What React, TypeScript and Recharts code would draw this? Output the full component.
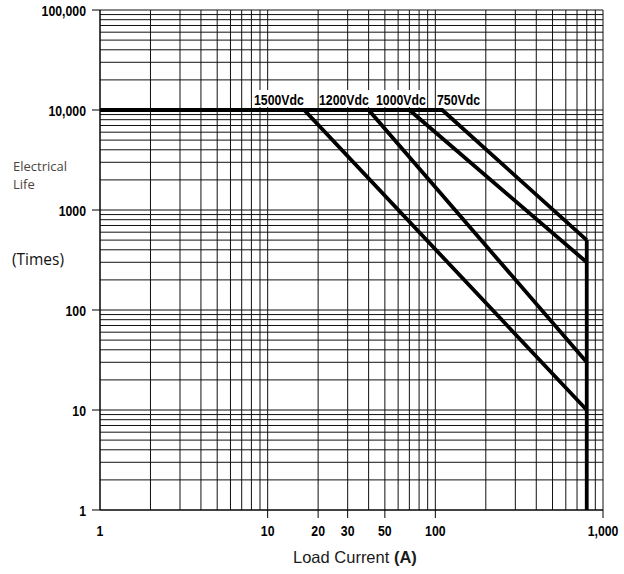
import React from "react";
import { LineChart, Line, XAxis, YAxis, CartesianGrid } from "recharts";

// grid ticks (1-2-...-9 per decade)
const xTicks = [
  1, 2, 3, 4, 5, 6, 7, 8, 9,
  10, 20, 30, 40, 50, 60, 70, 80, 90,
  100, 200, 300, 400, 500, 600, 700, 800, 900,
  1000,
];
const yTicks = [
  1, 2, 3, 4, 5, 6, 7, 8, 9,
  10, 20, 30, 40, 50, 60, 70, 80, 90,
  100, 200, 300, 400, 500, 600, 700, 800, 900,
  1000, 2000, 3000, 4000, 5000, 6000, 7000, 8000, 9000,
  10000, 20000, 30000, 40000, 50000, 60000, 70000, 80000, 90000,
  100000,
];

// labelled ticks
const xLabelValues = [1, 10, 20, 30, 50, 100, 1000];
const xLabelText = ["1", "10", "20", "30", "50", "100", "1,000"];
const yLabelValues = [1, 10, 100, 1000, 10000, 100000];
const yLabelText = ["1", "10", "100", "1000", "10,000", "100,000"];

// life curves: (load current A, operations)
const v1500 = [
  { x: 1, y: 10000 },
  { x: 16.5, y: 10000 },
  { x: 800, y: 10 },
];
const v1200 = [
  { x: 1, y: 10000 },
  { x: 40, y: 10000 },
  { x: 800, y: 30 },
];
const v1000 = [
  { x: 1, y: 10000 },
  { x: 70, y: 10000 },
  { x: 800, y: 300 },
];
const v750 = [
  { x: 1, y: 10000 },
  { x: 110, y: 10000 },
  { x: 800, y: 500 },
];
const cutoff = [
  { x: 800, y: 500 },
  { x: 800, y: 1 },
];

// no narrow font installed: squeeze Liberation Sans Bold horizontally
const NarrowText = ({ x, y, anchor, children }: any) => (
  <text
    transform={`translate(${x},${y}) scale(0.82,1)`}
    textAnchor={anchor || "start"}
    fontFamily="'Liberation Sans', Arial, sans-serif"
    fontWeight="bold"
    fontSize={15}
    fill="#000"
  >
    {children}
  </text>
);

const XTick = (props: any) => {
  const { x, y, payload } = props;
  const i = xLabelValues.indexOf(payload.value);
  if (i < 0) return null;
  return (
    <g>
      {i > 0 && <line x1={x} x2={x} y1={y} y2={y + 8} stroke="#000" />}
      <NarrowText x={x} y={y + 26} anchor="middle">
        {xLabelText[i]}
      </NarrowText>
    </g>
  );
};

const YTick = (props: any) => {
  const { x, y, payload } = props;
  const i = yLabelValues.indexOf(payload.value);
  if (i < 0) return null;
  return (
    <g>
      <line x1={x - 8} x2={x} y1={y} y2={y} stroke="#000" />
      <NarrowText x={x - 14} y={y + 6} anchor="end">
        {yLabelText[i]}
      </NarrowText>
    </g>
  );
};

const seriesLabels = [
  { text: "1500Vdc", x: 254 },
  { text: "1200Vdc", x: 319 },
  { text: "1000Vdc", x: 376 },
  { text: "750Vdc", x: 437 },
];

export default function App() {
  const lineProps = {
    type: "linear" as const,
    dataKey: "y",
    stroke: "#000",
    strokeWidth: 3.8,
    dot: false,
    activeDot: false,
    isAnimationActive: false,
    strokeLinejoin: "miter" as const,
  };
  return (
    <div style={{ position: "absolute", left: 0, top: 0, width: 624, height: 574, background: "#fff" }}>
      <LineChart width={624} height={574} margin={{ top: 10, right: 21, bottom: 0, left: 0 }}>
        <CartesianGrid stroke="#111" strokeWidth={1} />
        <XAxis
          dataKey="x"
          type="number"
          scale="log"
          domain={[1, 1000]}
          ticks={xTicks}
          interval={0}
          allowDataOverflow
          height={64}
          tickSize={0}
          tickMargin={0}
          tickLine={false}
          axisLine={{ stroke: "#000" }}
          tick={<XTick />}
        />
        <YAxis
          type="number"
          scale="log"
          domain={[1, 100000]}
          ticks={yTicks}
          interval={0}
          allowDataOverflow
          width={100}
          tickSize={0}
          tickMargin={0}
          tickLine={false}
          axisLine={{ stroke: "#000" }}
          tick={<YTick />}
        />
        <Line {...lineProps} data={v1500} />
        <Line {...lineProps} data={v1200} />
        <Line {...lineProps} data={v1000} />
        <Line {...lineProps} data={v750} />
        <Line {...lineProps} data={cutoff} />
      </LineChart>
      <svg
        width={624}
        height={574}
        style={{ position: "absolute", left: 0, top: 0, pointerEvents: "none" }}
      >
        <rect x={253} y={90} width={63} height={17} fill="#fff" />
        <rect x={320} y={90} width={106} height={17} fill="#fff" />
        <rect x={436} y={90} width={47} height={17} fill="#fff" />
        {seriesLabels.map((l) => (
          <NarrowText key={l.text} x={l.x} y={105}>
            {l.text}
          </NarrowText>
        ))}
        <text x={13} y={171} fontFamily="'Open Sans', sans-serif" fontSize={13} fill="#4a4540">
          Electrical
        </text>
        <text x={13} y={189} fontFamily="'Open Sans', sans-serif" fontSize={13} fill="#4a4540">
          Life
        </text>
        <text x={12} y={265} fontFamily="'Open Sans', sans-serif" fontSize={15.5} fill="#111">
          (Times)
        </text>
        <text x={293} y={563} fontFamily="'Liberation Sans', Arial, sans-serif" fontSize={16.5} fill="#1a1a1a">
          Load Current <tspan fontWeight="bold">(A)</tspan>
        </text>
      </svg>
    </div>
  );
}
